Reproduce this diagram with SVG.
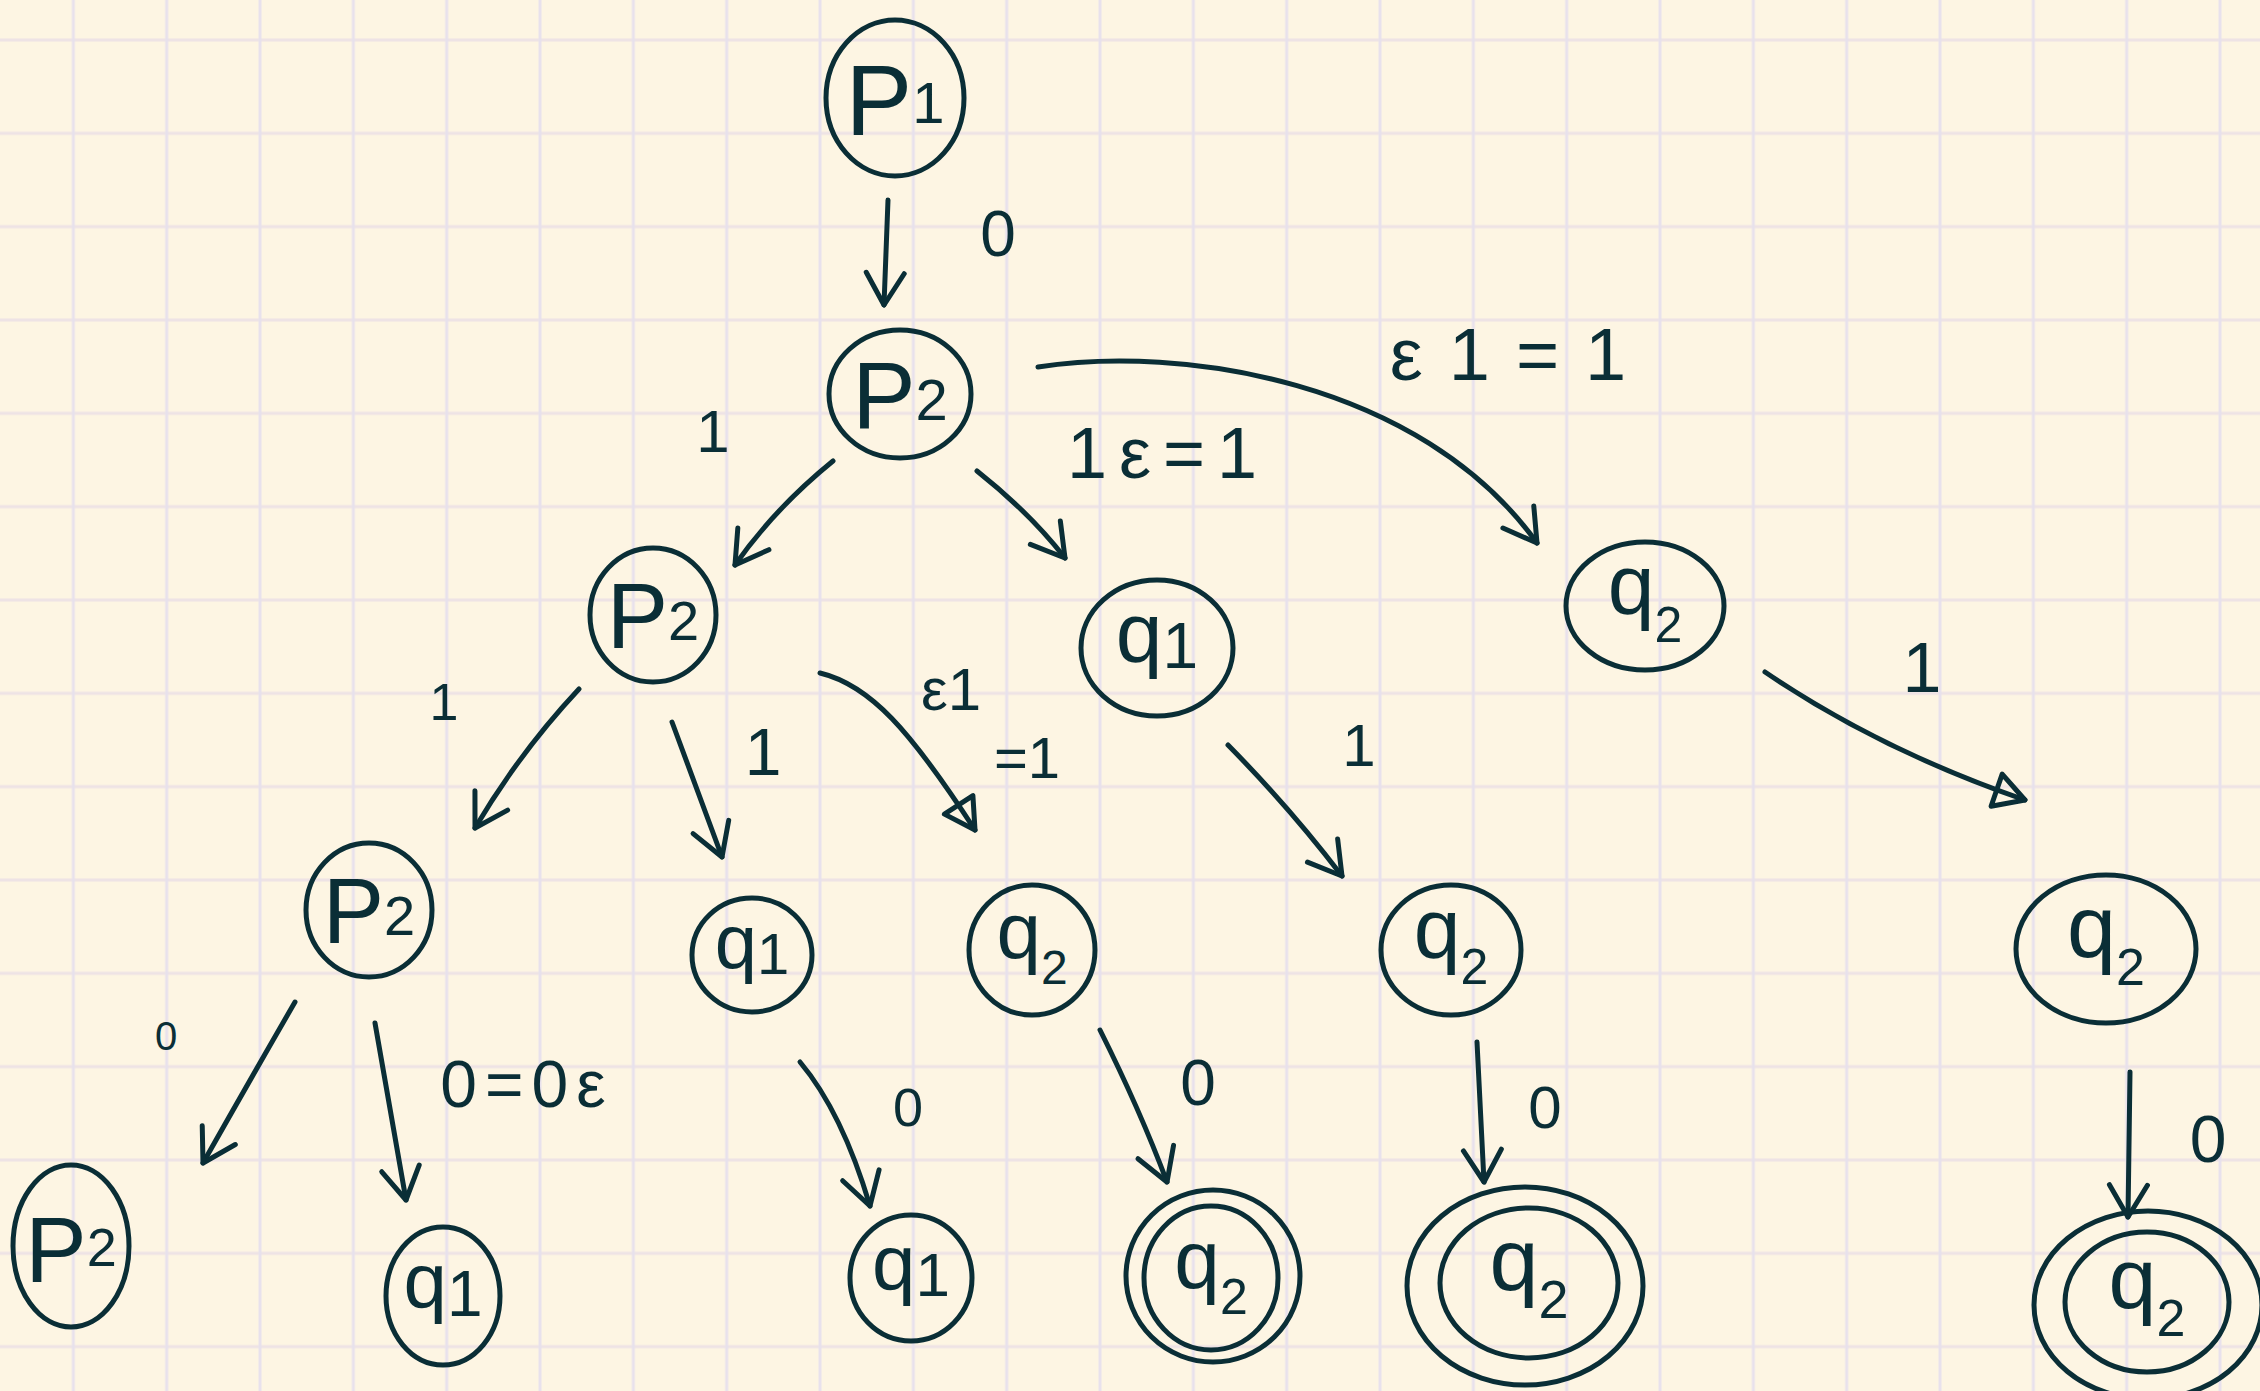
<svg xmlns="http://www.w3.org/2000/svg" width="2260" height="1391" viewBox="0 0 2260 1391">
<defs>
<pattern id="grid" patternUnits="userSpaceOnUse" x="26.667" y="-6.667" width="93.333" height="93.333">
<rect width="93.333" height="93.333" fill="#FDF5E3"/>
<rect x="0" y="45.17" width="93.333" height="3" fill="#EEE3E5"/>
<rect x="45.17" y="0" width="3" height="93.333" fill="#E6E0EC" opacity="0.95"/>
</pattern>
<marker id="v" markerUnits="userSpaceOnUse" markerWidth="80" markerHeight="80" viewBox="-40 -40 80 80" refX="0" refY="0" orient="auto" overflow="visible">
<path d="M-32,-19 L0,0 L-32,19" fill="none" stroke="#0A2E36" stroke-width="5" stroke-linecap="round" stroke-linejoin="round"/>
</marker>
<marker id="tri" markerUnits="userSpaceOnUse" markerWidth="80" markerHeight="80" viewBox="-40 -40 80 80" refX="0" refY="0" orient="auto" overflow="visible">
<path d="M-30,-17 L0,0 L-30,17 Z" fill="none" stroke="#0A2E36" stroke-width="5" stroke-linecap="round" stroke-linejoin="round"/>
</marker>
</defs>
<style>
.n{fill:none;stroke:#0A2E36;stroke-width:5}
.e{fill:none;stroke:#0A2E36;stroke-width:5;stroke-linecap:round}
.t{font-family:"Liberation Sans",Arial,sans-serif;fill:#0A2E36;text-anchor:middle}
.nl{font-family:"Liberation Sans",Arial,sans-serif;fill:#0A2E36;text-anchor:middle}
</style>
<rect width="2260" height="1391" fill="url(#grid)"/>

<g id="connectors">
<path class="e" d="M888,200 L884,305" marker-end="url(#v)"/>
<path class="e" d="M833,461 Q775,508 735,565" marker-end="url(#v)"/>
<path class="e" d="M977,471 Q1030,513 1065,558" marker-end="url(#v)"/>
<path class="e" d="M1038,367 C1180,345 1420,380 1537,543" marker-end="url(#v)"/>
<path class="e" d="M579,689 Q520,752 475,828" marker-end="url(#v)"/>
<path class="e" d="M672,722 L722,857" marker-end="url(#v)"/>
<path class="e" d="M820,673 C870,685 910,730 975,830" marker-end="url(#tri)"/>
<path class="e" d="M1228,745 Q1290,808 1342,876" marker-end="url(#v)"/>
<path class="e" d="M1765,672 Q1880,750 2025,800" marker-end="url(#tri)"/>
<path class="e" d="M295,1002 Q250,1080 203,1163" marker-end="url(#v)"/>
<path class="e" d="M375,1023 L406,1200" marker-end="url(#v)"/>
<path class="e" d="M800,1062 Q842,1112 870,1206" marker-end="url(#v)"/>
<path class="e" d="M1100,1030 Q1140,1110 1167,1182" marker-end="url(#v)"/>
<path class="e" d="M1477,1042 L1484,1182" marker-end="url(#v)"/>
<path class="e" d="M2130,1072 L2128,1217" marker-end="url(#v)"/>

<text class="t" x="998" y="256" font-size="64">0</text>
<text class="t" x="713" y="452" font-size="60">1</text>
<text class="t" x="1168" y="478" font-size="72" letter-spacing="12">1ε=1</text>
<text class="t" x="1521" y="380" font-size="74" letter-spacing="26">ε1=1</text>
<text class="t" x="444" y="720" font-size="52">1</text>
<text class="t" x="763" y="775" font-size="66">1</text>
<text class="t" x="951" y="710" font-size="60">ε1</text>
<text class="t" x="1027" y="778" font-size="58">=1</text>
<text class="t" x="1359" y="766" font-size="60">1</text>
<text class="t" x="1922" y="692" font-size="70">1</text>
<text class="t" x="166" y="1050" font-size="40">0</text>
<text class="t" x="527" y="1107" font-size="66" letter-spacing="8">0=0ε</text>
<text class="t" x="908" y="1126" font-size="54">0</text>
<text class="t" x="1198" y="1105" font-size="64">0</text>
<text class="t" x="1545" y="1128" font-size="60">0</text>
<text class="t" x="2208" y="1162" font-size="66">0</text>
</g>

<g id="n1"><ellipse class="n" cx="895" cy="98" rx="69" ry="78"/><text class="nl" x="895" y="135" font-size="100">P<tspan font-size="58" dy="-12">1</tspan></text></g>
<g id="n2"><ellipse class="n" cx="900" cy="394" rx="71" ry="64"/><text class="nl" x="900" y="428" font-size="95">P<tspan font-size="58" dy="-8">2</tspan></text></g>
<g id="n3"><ellipse class="n" cx="653" cy="615" rx="63" ry="67"/><text class="nl" x="653" y="648" font-size="92">P<tspan font-size="56" dy="-8">2</tspan></text></g>
<g id="n4"><ellipse class="n" cx="1157" cy="648" rx="76" ry="68"/><text class="nl" x="1157" y="662" font-size="84">q<tspan font-size="64" dy="6">1</tspan></text></g>
<g id="n5"><ellipse class="n" cx="1645" cy="606" rx="79" ry="64"/><text class="nl" x="1645" y="614" font-size="84">q<tspan font-size="50" dy="28">2</tspan></text></g>
<g id="n6"><ellipse class="n" cx="369" cy="910" rx="63" ry="67"/><text class="nl" x="369" y="943" font-size="92">P<tspan font-size="56" dy="-8">2</tspan></text></g>
<g id="n7"><ellipse class="n" cx="752" cy="955" rx="60" ry="57"/><text class="nl" x="752" y="968" font-size="76">q<tspan font-size="58" dy="6">1</tspan></text></g>
<g id="n8"><ellipse class="n" cx="1032" cy="950" rx="63" ry="65"/><text class="nl" x="1032" y="958" font-size="80">q<tspan font-size="48" dy="26">2</tspan></text></g>
<g id="n9"><ellipse class="n" cx="1451" cy="950" rx="70" ry="65"/><text class="nl" x="1451" y="958" font-size="84">q<tspan font-size="50" dy="26">2</tspan></text></g>
<g id="n10"><ellipse class="n" cx="2106" cy="949" rx="90" ry="74"/><text class="nl" x="2106" y="957" font-size="88">q<tspan font-size="52" dy="28">2</tspan></text></g>
<g id="n11"><ellipse class="n" cx="71" cy="1246" rx="58" ry="81"/><text class="nl" x="71" y="1282" font-size="92">P<tspan font-size="54" dy="-16">2</tspan></text></g>
<g id="n12"><ellipse class="n" cx="443" cy="1296" rx="57" ry="69"/><text class="nl" x="443" y="1308" font-size="78">q<tspan font-size="64" dy="8">1</tspan></text></g>
<g id="n13"><ellipse class="n" cx="911" cy="1278" rx="61" ry="63"/><text class="nl" x="911" y="1290" font-size="78">q<tspan font-size="62" dy="6">1</tspan></text></g>
<g id="n14"><ellipse class="n" cx="1213" cy="1276" rx="87" ry="86"/><ellipse class="n" cx="1211" cy="1278" rx="67" ry="72"/><text class="nl" x="1211" y="1288" font-size="82">q<tspan font-size="50" dy="26">2</tspan></text></g>
<g id="n15"><ellipse class="n" cx="1525" cy="1286" rx="118" ry="99"/><ellipse class="n" cx="1529" cy="1283" rx="89" ry="75"/><text class="nl" x="1529" y="1290" font-size="88">q<tspan font-size="54" dy="28">2</tspan></text></g>
<g id="n16"><ellipse class="n" cx="2148" cy="1305" rx="114" ry="94"/><ellipse class="n" cx="2147" cy="1302" rx="82" ry="70"/><text class="nl" x="2147" y="1308" font-size="86">q<tspan font-size="52" dy="28">2</tspan></text></g>
</svg>
